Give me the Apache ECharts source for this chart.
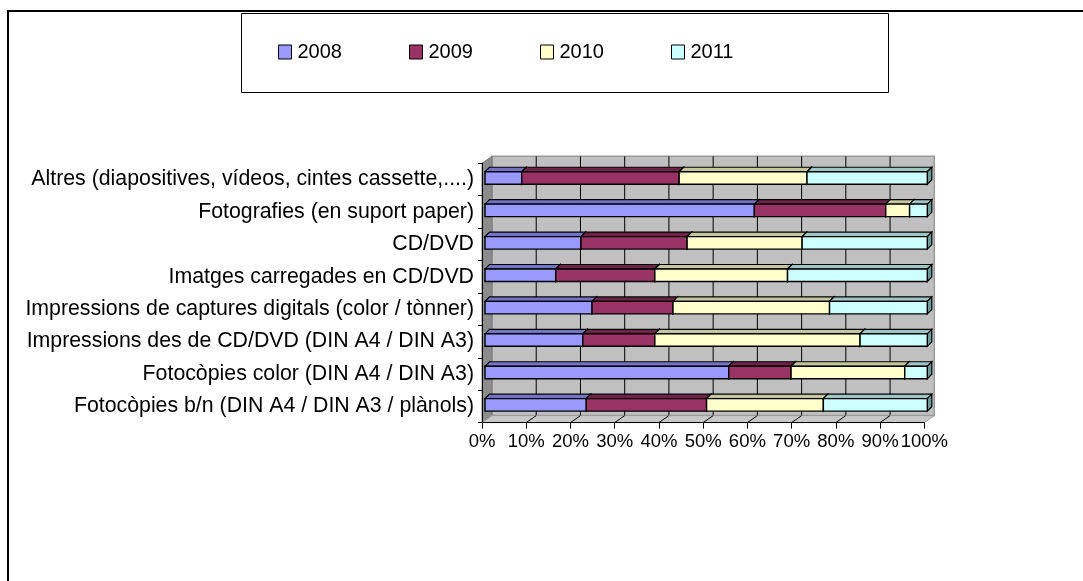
<!DOCTYPE html>
<html>
<head>
<meta charset="utf-8">
<script src="https://cdn.jsdelivr.net/npm/echarts@6/dist/echarts.min.js"></script>
<style>
html,body{margin:0;padding:0;background:#fff;}
#main{width:1083px;height:581px;}
</style>
</head>
<body>
<div id="main"></div>
<script>
// ---- data (categories listed bottom to top) ----
const categories = [
  'Fotocòpies b/n (DIN A4 / DIN A3 / plànols)',
  'Fotocòpies color (DIN A4 / DIN A3)',
  'Impressions des de CD/DVD (DIN A4 / DIN A3)',
  'Impressions de captures digitals (color / tònner)',
  'Imatges carregades en CD/DVD',
  'CD/DVD',
  'Fotografies (en suport paper)',
  'Altres (diapositives, vídeos, cintes cassette,....)'
];
const seriesNames = ['2008', '2009', '2010', '2011'];
const v2008 = [22.9, 55.1, 22.1, 24.2, 16.0, 21.7, 60.9, 8.3];
const v2009 = [27.2, 14.1, 16.3, 18.3, 22.4, 24.0, 29.7, 35.6];
const v2010 = [26.4, 25.7, 46.4, 35.4, 30.0, 26.0, 5.4, 28.9];
const v2011 = [23.5, 5.1, 15.2, 22.1, 31.6, 28.3, 4.0, 27.2];
const xTicks = [0, 10, 20, 30, 40, 50, 60, 70, 80, 90, 100];

// ---- styles ----
const FONT = "'Liberation Sans', Arial, sans-serif";
const frontColors = ['#9999FF', '#993366', '#FFFFCC', '#CCFFFF'];
const topColors = ['#7373C6', '#6E2449', '#C6C69E', '#9EC6C6'];
const sideColors = ['#5C5CA0', '#5A1D3C', '#A0A080', '#6E9A9A'];

const allValues = [v2008, v2009, v2010, v2011];
// 100% stacked: compute start/end per category
const totals = categories.map((_, i) => allValues.reduce((s, arr) => s + arr[i], 0));
const stacked = allValues.map(() => []);
categories.forEach((_, i) => {
  let acc = 0;
  allValues.forEach((arr, k) => {
    const pct = arr[i] / totals[i] * 100;
    stacked[k].push([acc, acc + pct, i]);
    acc += pct;
  });
});

const DX = 10, DY = 7;      // wall depth
function renderWall(params, api) {
  const cs = params.coordSys;
  const x0 = cs.x, y0 = cs.y, w = cs.width, h = cs.height;
  const children = [];
  children.push({type: 'rect', shape: {x: x0 + DX, y: y0 - DY, width: w, height: h},
    style: {fill: '#C0C0C0', stroke: '#9A9A9A', lineWidth: 1.5}});
  xTicks.forEach((v, i) => {
    if (i === 0 || i === xTicks.length - 1) return;
    const px = api.coord([v, 0])[0] + DX;
    children.push({type: 'line', shape: {x1: px, y1: y0 - DY, x2: px, y2: y0 + h - DY},
      style: {stroke: '#000', lineWidth: 1}});
  });
  children.push({type: 'polygon', shape: {points: [[x0, y0], [x0 + DX, y0 - DY], [x0 + DX, y0 + h - DY], [x0, y0 + h]]},
    style: {fill: '#8C8C8C', stroke: '#7A7A7A', lineWidth: 1}});
  children.push({type: 'polygon', shape: {points: [[x0, y0 + h], [x0 + DX, y0 + h - DY], [x0 + w + DX, y0 + h - DY], [x0 + w, y0 + h]]},
    style: {fill: '#C8C8C8', stroke: '#9A9A9A', lineWidth: 1}});
  xTicks.forEach((v, i) => {
    if (i === 0 || i === xTicks.length - 1) return;
    const px = api.coord([v, 0])[0];
    children.push({type: 'line', shape: {x1: px, y1: y0 + h, x2: px + DX, y2: y0 + h - DY},
      style: {stroke: '#000', lineWidth: 1}});
  });
  return {type: 'group', children};
}

function makeBarRenderer(k) {
  return function (params, api) {
    const s = api.value(0), e = api.value(1), c = api.value(2);
    const a = api.coord([s, c]), b = api.coord([e, c]);
    const h = 12.5, d = 4.5;
    const x = a[0] + 3, w = b[0] - a[0], y = a[1] - h / 2 - 1.5;
    return {type: 'group', children: [
      {type: 'polygon', shape: {points: [[x, y], [x + d, y - d], [x + w + d, y - d], [x + w, y]]},
        style: {fill: topColors[k], stroke: '#000', lineWidth: 1.2}},
      {type: 'polygon', shape: {points: [[x + w, y], [x + w + d, y - d], [x + w + d, y + h - d], [x + w, y + h]]},
        style: {fill: sideColors[k], stroke: '#000', lineWidth: 1.2}},
      {type: 'rect', shape: {x: x, y: y, width: w, height: h},
        style: {fill: frontColors[k], stroke: '#000', lineWidth: 1.4}}
    ]};
  };
}

const chart = echarts.init(document.getElementById('main'), null, {renderer: 'canvas'});
const series = [{
  name: 'wall', type: 'custom', z: -1, silent: true,
  renderItem: renderWall, data: [[0, 0, 0]], encode: {x: [0, 1], y: 2}
}];
seriesNames.forEach((name, k) => {
  series.push({
    name, type: 'custom', renderItem: makeBarRenderer(k),
    itemStyle: {color: frontColors[k], borderColor: '#000', borderWidth: 1},
    encode: {x: [0, 1], y: 2},
    data: stacked[k]
  });
});

chart.setOption({
  animation: false,
  backgroundColor: '#fff',
  textStyle: {fontFamily: FONT},
  graphic: [
    {type: 'rect', shape: {x: 8, y: 11, width: 1200, height: 700}, style: {fill: 'none', stroke: '#000', lineWidth: 2}, z: 100},
    {type: 'rect', shape: {x: 241.5, y: 13.5, width: 647, height: 79}, style: {fill: 'none', stroke: '#000', lineWidth: 1}, z: 100}
  ],
  legend: {
    data: seriesNames,
    left: 273, top: 37,
    itemWidth: 13, itemHeight: 14, itemGap: 67,
    icon: 'rect',
    itemStyle: {borderColor: '#000', borderWidth: 1},
    textStyle: {fontFamily: FONT, fontSize: 20, color: '#000', padding: [0, 0, 0, 1]}
  },
  grid: {left: 482, right: 158.7, top: 163.3, bottom: 158.4, containLabel: false},
  xAxis: {
    type: 'value', min: 0, max: 100, interval: 10,
    axisLine: {show: true, lineStyle: {color: '#000', width: 1}},
    axisTick: {show: true, length: 6, lineStyle: {color: '#000'}},
    splitLine: {show: false},
    axisLabel: {formatter: '{value}%', fontFamily: FONT, fontSize: 18.5, color: '#000', margin: 10,
      hideOverlap: false, showMinLabel: true, showMaxLabel: true}
  },
  yAxis: {
    type: 'category', data: categories,
    axisLine: {show: true, lineStyle: {color: '#000', width: 1}},
    axisTick: {show: true, length: 4, lineStyle: {color: '#000'}},
    splitLine: {show: false},
    axisLabel: {fontFamily: FONT, fontSize: 21.3, color: '#000', margin: 8, interval: 0}
  },
  series
});
</script>
</body>
</html>
